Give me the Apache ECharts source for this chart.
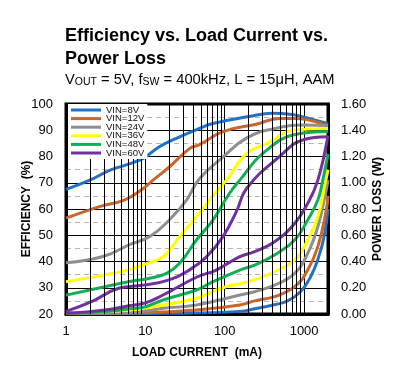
<!DOCTYPE html>
<html><head><meta charset="utf-8">
<script src="https://cdn.jsdelivr.net/npm/echarts@6/dist/echarts.min.js"></script>
<style>html,body{margin:0;padding:0;background:#fff}#c{width:397px;height:370px}</style>
</head><body><div id="c"></div>
<script>
// ---- data (load current in mA) ----
const seriesNames = ['VIN=8V','VIN=12V','VIN=24V','VIN=36V','VIN=48V','VIN=60V'];
const xTickLabels = ['1','10','100','1000'];
const leftTickLabels = ['20','30','40','50','60','70','80','90','100'];
const rightTickLabels = ['0.00','0.20','0.40','0.60','0.80','1.00','1.20','1.40','1.60'];

// efficiency (%)
const eff8V  = [[1,67.5],[2,71],[3.6,74.8],[6,77],[9.4,79.3],[15,83.7],[27,87.5],[48,90.7],[71,92.6],[200,95.2],[400,96.5],[700,96],[1000,95],[2000,92.5]];
const eff12V = [[1,56.5],[2.7,61],[5.5,63.5],[9.4,67.8],[12.5,71],[20,76],[36,83],[48,84.5],[95,89.5],[250,92.3],[490,94.5],[800,94.5],[1300,93.5],[2000,91.5]];
const eff24V = [[1,39.5],[3,42],[6.4,46.5],[11.4,49.5],[20,55.8],[33,63.4],[48,71.5],[95,79.8],[187,87],[405,90.5],[1000,92],[2000,91.8]];
const eff36V = [[1,32.3],[3.1,34.9],[6.1,36.8],[10,39],[16.7,41.8],[27,49.5],[44,57.1],[71,65],[105,71],[187,81],[370,85.5],[720,90],[2000,90.7]];
const eff48V = [[1,27.2],[3.1,30.4],[6.1,32.3],[11,33.5],[18.5,35.5],[27,39.3],[44,48.2],[71,55.8],[115,66],[155,71],[303,81.2],[800,88.5],[2000,89.5]];
const eff60V = [[1,21],[2.1,24.7],[4.6,29.8],[9.4,31],[20,33],[36,36.8],[59,41.8],[95,49.5],[140,59],[190,68],[490,80],[960,86.3],[2000,87.5]];

// power loss (W)
const loss8V  = [[1,0],[20,0.005],[155,0.02],[240,0.04],[420,0.07],[620,0.1],[900,0.17],[1200,0.28],[1500,0.42],[1800,0.6],[2000,0.8]];
const loss12V = [[1,0.005],[10,0.01],[44,0.03],[155,0.069],[238,0.1],[425,0.132],[760,0.208],[1110,0.335],[1490,0.513],[1900,0.79],[2000,0.9]];
const loss24V = [[1,0.005],[6.4,0.01],[16.7,0.043],[44,0.069],[155,0.145],[238,0.17],[425,0.22],[760,0.31],[1110,0.462],[1490,0.665],[1900,0.945],[2000,1.02]];
const loss36V = [[1,0.005],[6.4,0.03],[16.7,0.069],[44,0.12],[78,0.183],[115,0.215],[155,0.23],[238,0.26],[425,0.322],[760,0.41],[1110,0.564],[1490,0.741],[1850,1.0],[2000,1.1]];
const loss48V = [[1,0.005],[3.1,0.018],[6.4,0.04],[10,0.055],[16.7,0.107],[44,0.183],[71,0.246],[155,0.335],[238,0.373],[425,0.45],[760,0.564],[1110,0.716],[1490,0.869],[1720,1.02],[2000,1.22]];
const loss60V = [[1,0.005],[3.1,0.03],[6.4,0.065],[10,0.085],[16.7,0.145],[44,0.28],[78,0.335],[155,0.437],[238,0.475],[425,0.551],[760,0.69],[1110,0.843],[1490,1.02],[2000,1.36]];

const effData = [eff8V, eff12V, eff24V, eff36V, eff48V, eff60V];
const lossData = [loss8V, loss12V, loss24V, loss36V, loss48V, loss60V];
const colors = ['#1f72c6','#c8662c','#8e8e8e','#ffff00','#10ae55','#7030a0'];

const FONT = 'Liberation Sans, Arial, sans-serif';

// minor vertical grid lines of the log axis (2..9 per decade)
const minorLines = [];
[1,10,100,1000].forEach(d => { for (let k = 2; k <= 9; k++) { if (k*d < 2000) minorLines.push({xAxis: k*d}); } });

const series = [];
series.push({
  type: 'line', name: 'grid', data: [[1,20],[1,20]], symbol: 'none', silent: true, z: 1,
  lineStyle: {opacity: 0},
  markLine: {silent: true, symbol: ['none','none'], label: {show: false}, animation: false,
    lineStyle: {color: '#000', type: 'solid', width: 1}, emphasis: {disabled: true}, data: minorLines}
});
lossData.forEach((d, i) => series.push({
  type: 'line', name: seriesNames[i], yAxisIndex: 1, data: d, symbol: 'none', showSymbol: false, smooth: 0.45,
  lineStyle: {color: colors[i], width: 3}, itemStyle: {color: colors[i]}, z: 3
}));
effData.forEach((d, i) => series.push({
  type: 'line', name: seriesNames[i], yAxisIndex: 0, data: d, symbol: 'none', showSymbol: false, smooth: 0.45,
  lineStyle: {color: colors[i], width: 3}, itemStyle: {color: colors[i]}, z: 3
}));

const chart = echarts.init(document.getElementById('c'), null, {renderer: 'canvas'});
chart.setOption({
  animation: false,
  backgroundColor: '#fff',
  title: {
    left: 65, top: 25, itemGap: 0, padding: 0,
    text: 'Efficiency vs. Load Current vs.\nPower Loss',
    textStyle: {fontFamily: FONT, fontSize: 18, fontWeight: 'bold', color: '#000', lineHeight: 23},
    subtext: 'V{s|OUT} = 5V, f{s|SW} = 400kHz, L = 15μH, AAM',
    subtextStyle: {fontFamily: FONT, fontSize: 14.7, color: '#000', lineHeight: 17,
      rich: {s: {fontFamily: FONT, fontSize: 10.5, color: '#000', verticalAlign: 'bottom', lineHeight: 15}}}
  },
  legend: {
    data: seriesNames, orient: 'vertical', left: 68, top: 104, z: 10,
    icon: 'rect', itemWidth: 30, itemHeight: 3, itemGap: -1.4, padding: [1, 3, 1, 3],
    backgroundColor: '#fff', selectedMode: false,
    textStyle: {fontFamily: FONT, fontSize: 9.5, color: '#111'}
  },
  grid: {left: 66, right: 69, top: 104, bottom: 56, show: true, borderColor: '#000', borderWidth: 3, backgroundColor: 'transparent'},
  xAxis: {
    type: 'log', logBase: 10, min: 1, max: 2000,
    name: 'LOAD CURRENT  (mA)', nameLocation: 'middle', nameGap: 33, nameMoveOverlap: false,
    nameTextStyle: {fontFamily: FONT, fontSize: 12, fontWeight: 'bold', color: '#000'},
    axisLine: {show: true, lineStyle: {color: '#000', width: 3}},
    axisTick: {show: false},
    axisLabel: {fontFamily: FONT, fontSize: 13, color: '#000', margin: 11,
      formatter: v => { const s = String(Math.round(v)); return xTickLabels.indexOf(s) >= 0 ? s : ''; }},
    splitLine: {show: true, lineStyle: {color: '#000', width: 1}}
  },
  yAxis: [{
    type: 'value', min: 20, max: 100, interval: 10, position: 'left',
    name: 'EFFICIENCY  (%)', nameLocation: 'middle', nameGap: 33, nameRotate: 90, nameMoveOverlap: false,
    nameTextStyle: {fontFamily: FONT, fontSize: 12, fontWeight: 'bold', color: '#000'},
    axisLine: {show: true, lineStyle: {color: '#000', width: 3}},
    axisTick: {show: false},
    axisLabel: {fontFamily: FONT, fontSize: 13, color: '#000', margin: 13,
      formatter: v => leftTickLabels[Math.round((v - 20) / 10)]},
    splitLine: {show: true, lineStyle: {color: '#000', width: 1}},
    minorTick: {show: false, splitNumber: 2},
    minorSplitLine: {show: true, lineStyle: {color: '#b4b4b4', width: 1, type: [5, 4]}}
  }, {
    type: 'value', min: 0, max: 1.6, interval: 0.2, position: 'right',
    name: 'POWER LOSS (W)', nameLocation: 'middle', nameGap: 44, nameRotate: 90, nameMoveOverlap: false,
    nameTextStyle: {fontFamily: FONT, fontSize: 12, fontWeight: 'bold', color: '#000'},
    axisLine: {show: true, lineStyle: {color: '#000', width: 3}},
    axisTick: {show: false},
    axisLabel: {fontFamily: FONT, fontSize: 13, color: '#000', margin: 13,
      formatter: v => rightTickLabels[Math.round(v / 0.2)]},
    splitLine: {show: false}
  }],
  series: series
});
</script></body></html>
